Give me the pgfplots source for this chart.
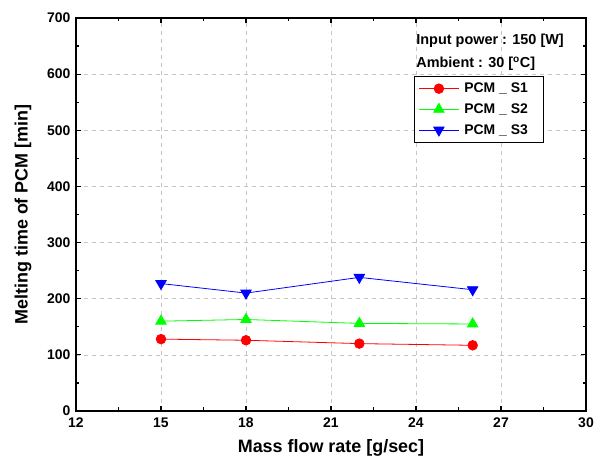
\documentclass[border=0pt]{standalone}
\usepackage{pgfplots}
\pgfplotsset{compat=1.18}
\usepackage{fontspec}
\setmainfont{Liberation Sans}
\begin{document}
\begin{tikzpicture}
\begin{axis}[
  scale only axis,
  width=510bp, height=393bp,
  xmin=12, xmax=30, ymin=0, ymax=700,
  xtick={12,15,...,30}, ytick={0,100,...,700},
  minor x tick num=1, minor y tick num=1,
  tick align=inside,
  major tick length=5bp, minor tick length=3.5bp,
  every tick/.style={black, line width=1.2pt},
  axis line style={line width=1.6pt},
  grid=major,
  major grid style={dash pattern=on 4bp off 4bp, gray!45, line width=0.6pt},
  tick label style={font=\bfseries\fontsize{14}{16}\selectfont},
  /pgf/number format/assume math mode=true,
  xticklabel style={yshift=-3bp},
  yticklabel style={xshift=-2bp},
  xlabel={\bfseries Mass flow rate [g/sec]},
  ylabel={\bfseries Melting time of PCM [min]},
  label style={font=\bfseries\fontsize{18}{20}\selectfont},
  xlabel style={yshift=-5bp},
  ylabel style={yshift=9bp},
  legend style={at={(rel axis cs:0.663,0.852)}, anchor=north west,
    font=\bfseries\fontsize{14}{16}\selectfont, draw=black, line width=0.8pt,
    row sep=5.5pt, inner xsep=4pt, inner ysep=4.5pt,
    /tikz/every odd column/.append style={column sep=3bp}},
  legend image code/.code={\draw[mark repeat=2,mark phase=2,line width=0.8pt] plot coordinates {(0bp,0bp) (20bp,0bp) (40bp,0bp)};},
  legend cell align=left,
]
\addplot[red, line width=0.8pt, mark=*, mark size=4.8bp, mark options={solid}] coordinates {(15,128) (18,126) (22,120) (26,117)};
\addlegendentry{PCM \_ S1\kern10bp}
\addplot[green, line width=0.8pt, mark=triangle*, mark size=6bp] coordinates {(15,160) (18,163) (22,156) (26,155)};
\addlegendentry{PCM \_ S2\kern10bp}
\addplot[blue, line width=0.8pt, mark=triangle*, mark size=6bp, mark options={rotate=180}] coordinates {(15,227) (18,210) (22,238) (26,216)};
\addlegendentry{PCM \_ S3\kern10bp}
\node[anchor=west, font=\bfseries\fontsize{14.5}{16}\selectfont, inner sep=0pt] at (rel axis cs:0.667,0.942) {Input power : 150 [W]};
\node[anchor=west, font=\bfseries\fontsize{14.5}{16}\selectfont, inner sep=0pt] at (rel axis cs:0.667,0.883) {Ambient : 30 [\textsuperscript{o}C]};
\coordinate (sw) at (rel axis cs:0,0);
\coordinate (ne) at (rel axis cs:1,1);
\end{axis}
\path ([shift={(-76bp,-60bp)}]sw) rectangle ([shift={(14bp,18bp)}]ne);
\end{tikzpicture}
\end{document}
